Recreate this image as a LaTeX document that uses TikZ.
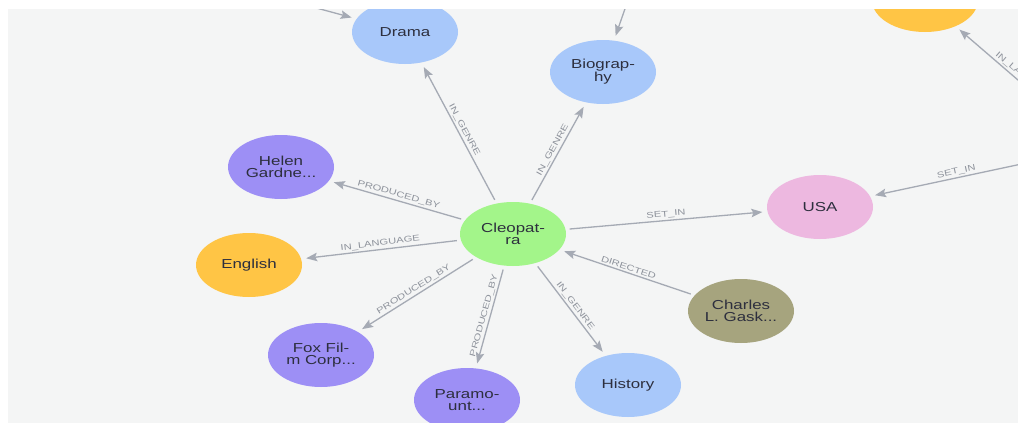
\documentclass[tikz,border=0pt]{standalone}
\usepackage{fontspec}
\setmainfont{Liberation Sans}
\newfontfamily\nodefont[FakeStretch=1.3]{Liberation Sans}
\newfontfamily\relfont[FakeStretch=1.35]{Liberation Sans}
\usetikzlibrary{shapes.geometric,arrows.meta}
\definecolor{panel}{HTML}{F4F5F5}
\definecolor{genre}{HTML}{A8C8FA}
\definecolor{movie}{HTML}{A3F58A}
\definecolor{company}{HTML}{9D8FF5}
\definecolor{language}{HTML}{FFC545}
\definecolor{country}{HTML}{EDB8E0}
\definecolor{person}{HTML}{A6A47E}
\definecolor{edgecol}{HTML}{A5AAB4}
\definecolor{lblcol}{HTML}{8E939C}
\definecolor{txt}{HTML}{2D2F3E}
\begin{document}
\begin{tikzpicture}[x=1pt,y=-1pt,
  nd/.style={ellipse, minimum width=106pt, minimum height=64pt, inner sep=-30pt,
    font=\nodefont\fontsize{13}{11.5}\selectfont, text=txt, align=center},
  rel/.style={draw=edgecol, line width=1.3pt,
    -{Stealth[length=11pt,width=8.5pt,inset=2pt]}, shorten >=5pt, shorten <=4pt},
  lbl/.style={sloped, above, midway, font=\relfont\fontsize{8.3}{9}\selectfont,
    text=lblcol, inner sep=1.5pt}
]
\useasboundingbox (0,0) rectangle (1018,423);
\fill[white] (0,0) rectangle (1018,423);
\fill[panel] (8,9) rectangle (1018,423);
\begin{scope}
\clip (8,9) rectangle (1018,423);
% nodes
\node[nd, fill=movie]    (cleo)    at (513,234) {Cleopat-\\ra};
\node[nd, fill=genre]    (drama)   at (405,32)  {Drama};
\node[nd, fill=genre]    (bio)     at (603,72)  {Biograp-\\hy};
\node[nd, fill=company]  (helen)   at (281,167) {Helen\\Gardne...};
\node[nd, fill=language] (english) at (249,265) {English};
\node[nd, fill=country]  (usa)     at (820,207) {USA};
\node[nd, fill=person]   (charles) at (741,311) {Charles\\L. Gask...};
\node[nd, fill=company]  (fox)     at (321,355) {Fox Fil-\\m Corp...};
\node[nd, fill=company]  (para)    at (467,400) {Paramo-\\unt...};
\node[nd, fill=genre]    (hist)    at (628,385) {History};
\node[nd, fill=language] (lang)    at (925,0)   {};
% off-canvas ends
\coordinate (dramain) at (250,-10);
\coordinate (bioin)   at (635,-20);
\coordinate (langin)  at (1090,142);
\coordinate (usain)   at (1045,159);
% connectors
\draw[rel] (cleo) -- node[lbl] {IN\_GENRE} (drama);
\draw[rel] (cleo) -- node[lbl] {IN\_GENRE} (bio);
\draw[rel] (cleo) -- node[lbl] {PRODUCED\_BY} (helen);
\draw[rel] (cleo) -- node[lbl] {IN\_LANGUAGE} (english);
\draw[rel] (cleo) -- node[lbl] {SET\_IN} (usa);
\draw[rel] (charles) -- node[lbl] {DIRECTED} (cleo);
\draw[rel] (cleo) -- node[lbl] {PRODUCED\_BY} (fox);
\draw[rel] (cleo) -- node[lbl] {PRODUCED\_BY} (para);
\draw[rel] (cleo) -- node[lbl] {IN\_GENRE} (hist);
\draw[rel] (dramain) -- (drama);
\draw[rel] (bioin) -- (bio);
\draw[rel] (langin) -- node[lbl] {IN\_LANGUAGE} (lang);
\draw[rel] (usain) -- node[lbl] {SET\_IN} (usa);
\end{scope}
\end{tikzpicture}
\end{document}
